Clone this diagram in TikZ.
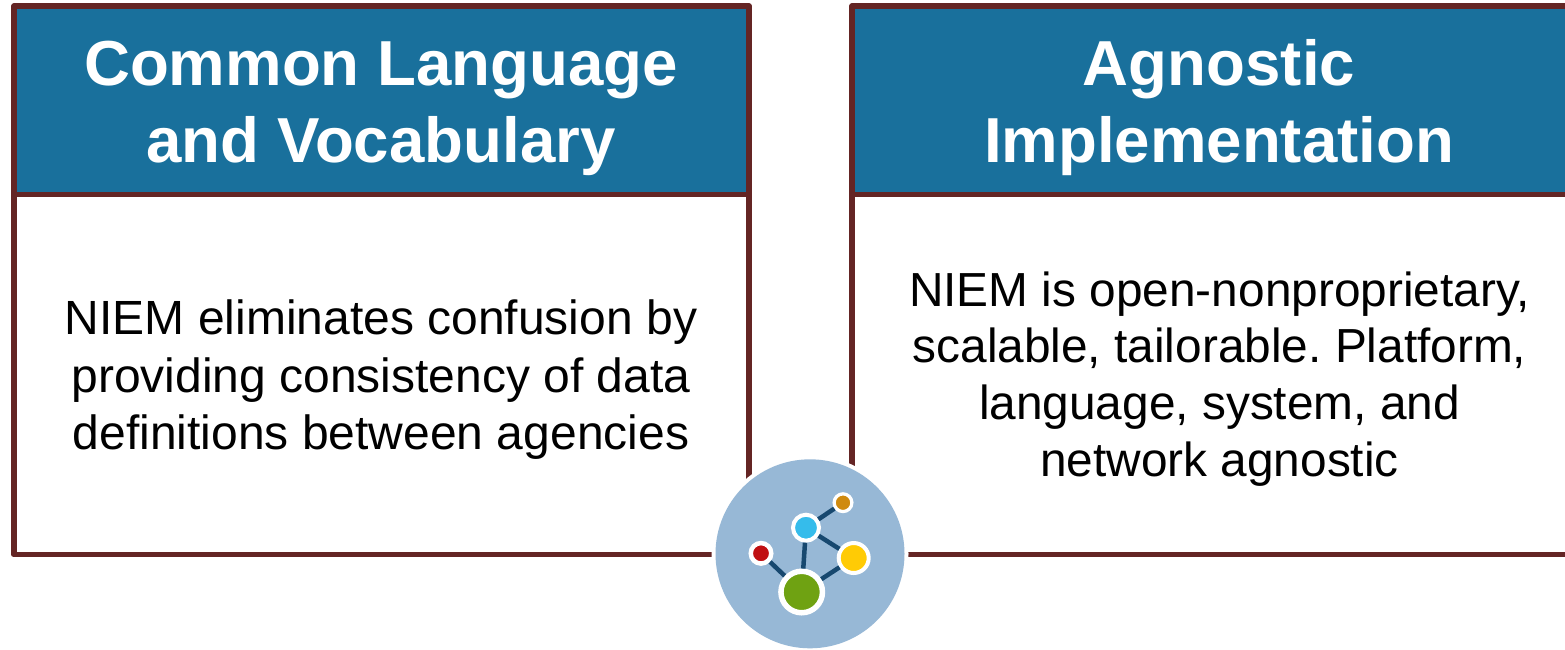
\documentclass[tikz,border=0pt]{standalone}
\usepackage{fontspec}
\setmainfont{Liberation Sans}
\frenchspacing
\definecolor{frame}{HTML}{642524}
\definecolor{head}{HTML}{19709C}
\definecolor{disc}{HTML}{97B8D6}
\definecolor{link}{HTML}{17486F}
\definecolor{dotblue}{HTML}{35BCEB}
\definecolor{dotorange}{HTML}{CF8A0F}
\definecolor{dotred}{HTML}{C00F12}
\definecolor{dotyellow}{HTML}{FFCB05}
\definecolor{dotgreen}{HTML}{6FA212}
\tikzset{
  x=1pt,y=-1pt,
  headbox/.style={draw=frame,fill=head,line width=5.7pt,rectangle,outer sep=0pt,minimum width=735pt,minimum height=188.5pt,anchor=north west,inner sep=0pt,line join=round},
  bodybox/.style={draw=frame,fill=white,line width=5.7pt,rectangle,outer sep=0pt,minimum width=735pt,minimum height=360pt,anchor=north west,inner sep=0pt,line join=round},
  headtext/.style={text=white,font=\fontsize{63.6}{77}\selectfont\bfseries,align=center,inner sep=0pt,anchor=center},
  bodytext/.style={text=black,font=\fontsize{48}{57.5}\selectfont,align=center,inner sep=0pt,anchor=center},
  bodytextR/.style={text=black,font=\fontsize{47.8}{56.7}\selectfont,align=center,inner sep=0pt,anchor=center},
  dot/.style={circle,draw=white,inner sep=0pt,fill=#1},
  linkline/.style={draw=link,line width=4.5pt},
}
\begin{document}
\begin{tikzpicture}
\useasboundingbox (0,0) rectangle (1565,649);
\node[bodybox] (bodyL) at (14,194.5) {};
\node[headbox] (headL) at (14,6) {};
\node[bodybox] (bodyR) at (852,194.5) {};
\node[headbox] (headR) at (852,6) {};
\node[headtext] (titleL) at (381,108) {Common Language\\and Vocabulary};
\node[headtext] (titleR) at (1219,108) {Agnostic\\Implementation};
\node[bodytext] (textL) at (381,380) {NIEM eliminates confusion by\\providing consistency of data\\definitions between agencies};
\node[bodytextR] (textR) at (1219.5,378.8) {NIEM is open-nonproprietary,\\scalable, tailorable. Platform,\\language, system, and\\network agnostic};
\node[circle,fill=white,minimum size=197pt,inner sep=0pt] (halo) at (810,553.8) {};
\node[circle,fill=disc,minimum size=189pt,inner sep=0pt] (disc) at (810,553.8) {};
\node[dot=dotblue,line width=4pt,minimum size=26pt] (nblue) at (806,527.7) {};
\node[dot=dotorange,line width=3.25pt,minimum size=17.75pt] (norange) at (843,502.7) {};
\node[dot=dotred,line width=4.5pt,minimum size=20.5pt] (nred) at (761,553.3) {};
\node[dot=dotyellow,line width=4pt,minimum size=30pt] (nyellow) at (853.7,558) {};
\node[dot=dotgreen,line width=5.5pt,minimum size=41.5pt] (ngreen) at (801.7,592) {};
\draw[linkline] (nblue) -- (norange);
\draw[linkline] (nblue) -- (nyellow);
\draw[linkline] (nblue) -- (ngreen);
\draw[linkline] (nred) -- (ngreen);
\draw[linkline] (nyellow) -- (ngreen);
\end{tikzpicture}
\end{document}
